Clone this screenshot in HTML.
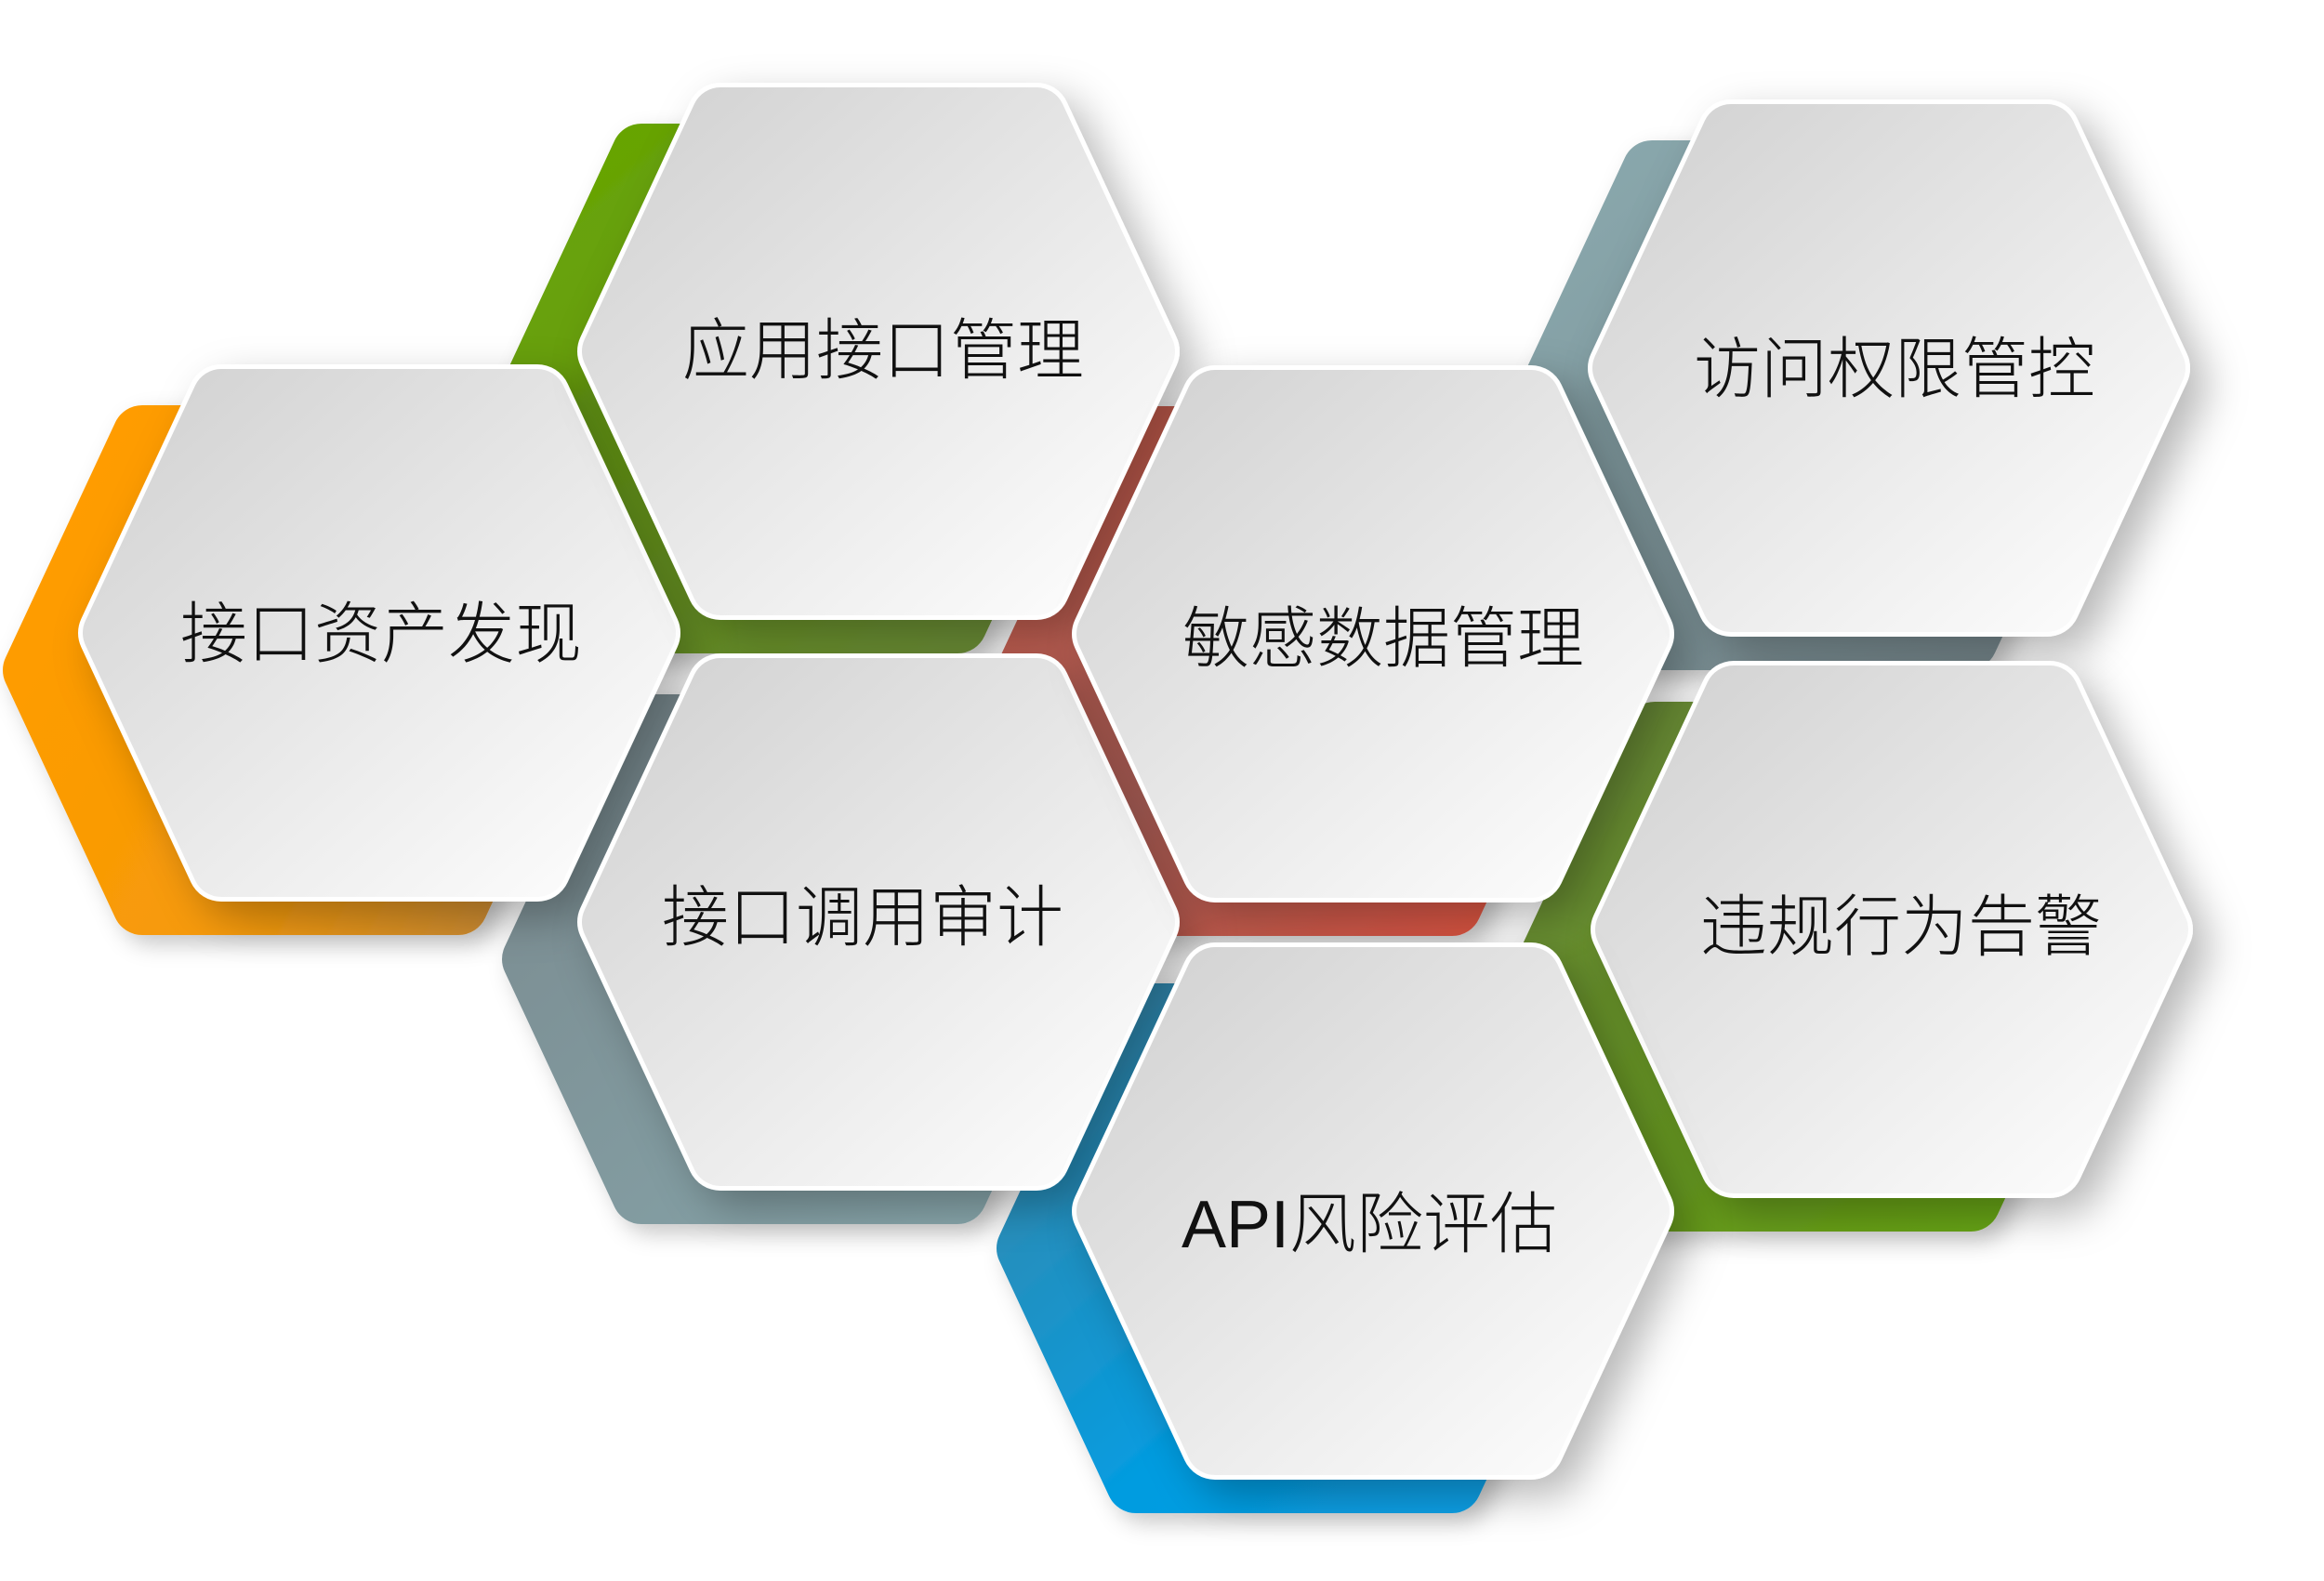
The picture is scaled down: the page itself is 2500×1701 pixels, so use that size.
<!DOCTYPE html>
<html><head><meta charset="utf-8">
<style>
html,body{margin:0;padding:0;background:#fff;}
svg{display:block;}
text{font-family:"Liberation Sans","Noto Sans CJK SC",sans-serif;font-size:72px;fill:#111;font-weight:300;}
</style></head>
<body>
<svg width="2500" height="1701" viewBox="0 0 2500 1701" xmlns="http://www.w3.org/2000/svg">
<defs>
  <filter id="sh" x="-20%" y="-20%" width="150%" height="150%">
    <feDropShadow dx="18" dy="18" stdDeviation="22" flood-color="#000" flood-opacity="0.28"/>
  </filter>
  <filter id="sh2" x="-20%" y="-20%" width="150%" height="150%">
    <feDropShadow dx="10" dy="10" stdDeviation="12" flood-color="#000" flood-opacity="0.22"/>
  </filter>
  <linearGradient id="gf" x1="0" y1="0" x2="1" y2="1">
    <stop offset="0" stop-color="#d2d2d2"/><stop offset="1" stop-color="#fdfdfd"/>
  </linearGradient>
  <linearGradient id="go" x1="0" y1="0.3" x2="1" y2="0.8">
    <stop offset="0" stop-color="#ff9c00"/><stop offset="0.6" stop-color="#f59a0a"/><stop offset="1" stop-color="#c98a34"/>
  </linearGradient>
  <linearGradient id="gg" x1="0" y1="0" x2="1" y2="1">
    <stop offset="0" stop-color="#66a600"/><stop offset="1" stop-color="#6b8a3a"/>
  </linearGradient>
  <linearGradient id="gg2" x1="0" y1="0" x2="1" y2="1">
    <stop offset="0" stop-color="#6b8a3a"/><stop offset="1" stop-color="#66a610"/>
  </linearGradient>
  <linearGradient id="gs" x1="0" y1="0" x2="1" y2="1">
    <stop offset="0" stop-color="#7a8a8f"/><stop offset="1" stop-color="#87a6ab"/>
  </linearGradient>
  <linearGradient id="gs2" x1="0" y1="0" x2="1" y2="1">
    <stop offset="0" stop-color="#8aa9ae"/><stop offset="1" stop-color="#75858a"/>
  </linearGradient>
  <linearGradient id="gr" x1="0" y1="0" x2="1" y2="1">
    <stop offset="0" stop-color="#c85a4a"/><stop offset="0.5" stop-color="#b0625a"/><stop offset="1" stop-color="#e0533f"/>
  </linearGradient>
  <linearGradient id="gb" x1="0" y1="0" x2="1" y2="1">
    <stop offset="0" stop-color="#3a87a8"/><stop offset="0.6" stop-color="#049ce0"/><stop offset="1" stop-color="#0aa0e6"/>
  </linearGradient>
  <polygon id="hx" points="0,253 118,0 458,0 576,253 458,506 118,506"/>
</defs>

<g filter="url(#sh2)">
  <g transform="translate(35,468)"><use href="#hx" fill="url(#go)" stroke="url(#go)" stroke-width="64" stroke-linejoin="round"/></g>
  <g transform="translate(572,165)"><use href="#hx" fill="url(#gg)" stroke="url(#gg)" stroke-width="64" stroke-linejoin="round"/></g>
  <g transform="translate(572,779)"><use href="#hx" fill="url(#gs)" stroke="url(#gs)" stroke-width="64" stroke-linejoin="round"/></g>
  <g transform="translate(1104,469)"><use href="#hx" fill="url(#gr)" stroke="url(#gr)" stroke-width="64" stroke-linejoin="round"/></g>
  <g transform="translate(1659,183)"><use href="#hx" fill="url(#gs2)" stroke="url(#gs2)" stroke-width="64" stroke-linejoin="round"/></g>
  <g transform="translate(1662,787)"><use href="#hx" fill="url(#gg2)" stroke="url(#gg2)" stroke-width="64" stroke-linejoin="round"/></g>
  <g transform="translate(1104,1090)"><use href="#hx" fill="url(#gb)" stroke="url(#gb)" stroke-width="64" stroke-linejoin="round"/></g>
</g>

<g>
  <g transform="translate(120,428)" filter="url(#sh)"><use href="#hx" fill="#fff" stroke="#fff" stroke-width="72" stroke-linejoin="round"/><use href="#hx" fill="url(#gf)" stroke="url(#gf)" stroke-width="62" stroke-linejoin="round"/></g>
  <g transform="translate(657,125)" filter="url(#sh)"><use href="#hx" fill="#fff" stroke="#fff" stroke-width="72" stroke-linejoin="round"/><use href="#hx" fill="url(#gf)" stroke="url(#gf)" stroke-width="62" stroke-linejoin="round"/></g>
  <g transform="translate(657,739)" filter="url(#sh)"><use href="#hx" fill="#fff" stroke="#fff" stroke-width="72" stroke-linejoin="round"/><use href="#hx" fill="url(#gf)" stroke="url(#gf)" stroke-width="62" stroke-linejoin="round"/></g>
  <g transform="translate(1189,429)" filter="url(#sh)"><use href="#hx" fill="#fff" stroke="#fff" stroke-width="72" stroke-linejoin="round"/><use href="#hx" fill="url(#gf)" stroke="url(#gf)" stroke-width="62" stroke-linejoin="round"/></g>
  <g transform="translate(1744,143)" filter="url(#sh)"><use href="#hx" fill="#fff" stroke="#fff" stroke-width="72" stroke-linejoin="round"/><use href="#hx" fill="url(#gf)" stroke="url(#gf)" stroke-width="62" stroke-linejoin="round"/></g>
  <g transform="translate(1747,747)" filter="url(#sh)"><use href="#hx" fill="#fff" stroke="#fff" stroke-width="72" stroke-linejoin="round"/><use href="#hx" fill="url(#gf)" stroke="url(#gf)" stroke-width="62" stroke-linejoin="round"/></g>
  <g transform="translate(1189,1050)" filter="url(#sh)"><use href="#hx" fill="#fff" stroke="#fff" stroke-width="72" stroke-linejoin="round"/><use href="#hx" fill="url(#gf)" stroke="url(#gf)" stroke-width="62" stroke-linejoin="round"/></g>
</g>

<g text-anchor="middle" dominant-baseline="central">
  <text x="410" y="683">接口资产发现</text>
  <text x="950" y="378">应用接口管理</text>
  <text x="928" y="988">接口调用审计</text>
  <text x="1488" y="688">敏感数据管理</text>
  <text x="2038" y="398">访问权限管控</text>
  <text x="2045" y="998">违规行为告警</text>
  <text x="1473" y="1318">API风险评估</text>
</g>
</svg>
</body></html>
